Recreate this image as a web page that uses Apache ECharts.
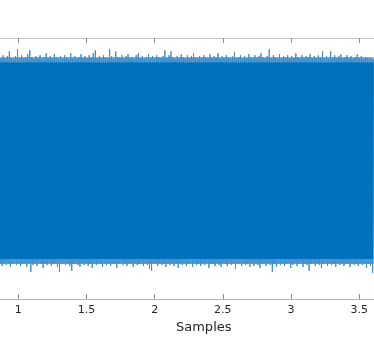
<!DOCTYPE html>
<html>
<head>
<meta charset="utf-8">
<script src="https://cdn.jsdelivr.net/npm/echarts@6/dist/echarts.min.js"></script>
<style>
  html, body { margin: 0; padding: 0; background: #fff; }
  #chart { width: 374px; height: 349px; }
</style>
</head>
<body>
<div id="chart"></div>
<script>
// sample positions (x10^n samples), one envelope value per position
const xStart = 0.86
const xStep = 0.015

// upper envelope of the noise (peaks)
const upper = [
  1.05,1.03,1.07,1.04,1.06,1.11,1.04,1.02,1.06,1.13,
  1.04,1.07,1.03,1.05,1.08,1.12,1.05,1.03,1.06,1.04,
  1.07,1.02,1.05,1.09,1.04,1.06,1.03,1.08,1.05,1.04,
  1.06,1.03,1.07,1.05,1.02,1.09,1.04,1.06,1.03,1.05,
  1.08,1.04,1.06,1.03,1.07,1.05,1.09,1.12,1.04,1.06,
  1.03,1.07,1.05,1.04,1.13,1.06,1.03,1.11,1.05,1.04,
  1.07,1.03,1.06,1.08,1.04,1.05,1.02,1.07,1.09,1.04,
  1.06,1.03,1.05,1.08,1.04,1.06,1.03,1.07,1.05,1.04,
  1.06,1.12,1.04,1.07,1.11,1.05,1.03,1.06,1.04,1.08,
  1.05,1.03,1.07,1.04,1.06,1.09,1.05,1.03,1.06,1.04,
  1.07,1.05,1.03,1.08,1.04,1.06,1.05,1.09,1.03,1.06,
  1.04,1.07,1.05,1.03,1.06,1.10,1.04,1.05,1.07,1.03,
  1.06,1.04,1.08,1.05,1.03,1.07,1.04,1.06,1.09,1.05,
  1.03,1.06,1.13,1.04,1.07,1.05,1.03,1.08,1.04,1.06,
  1.05,1.07,1.03,1.06,1.04,1.09,1.05,1.03,1.07,1.04,
  1.06,1.05,1.08,1.04,1.06,1.03,1.07,1.05,1.11,1.04,
  1.06,1.03,1.11,1.05,1.07,1.04,1.06,1.08,1.03,1.05,
  1.07,1.04,1.06,1.03,1.05,1.08,1.04,1.06,1.03,1.05,
  1.04,1.03,1.02,1.03
]
// lower envelope
const lower = [
  -1.05,-1.07,-1.03,-1.06,-1.04,-1.08,-1.05,-1.03,-1.06,-1.04,
  -1.07,-1.05,-1.03,-1.08,-1.04,-1.13,-1.06,-1.04,-1.07,-1.03,
  -1.05,-1.09,-1.04,-1.06,-1.03,-1.07,-1.05,-1.04,-1.08,-1.13,
  -1.05,-1.03,-1.06,-1.04,-1.07,-1.12,-1.05,-1.03,-1.06,-1.08,
  -1.04,-1.06,-1.03,-1.07,-1.05,-1.09,-1.04,-1.06,-1.03,-1.05,
  -1.08,-1.04,-1.06,-1.03,-1.07,-1.05,-1.04,-1.09,-1.05,-1.03,
  -1.06,-1.04,-1.07,-1.05,-1.03,-1.08,-1.04,-1.06,-1.05,-1.03,
  -1.07,-1.04,-1.06,-1.10,-1.12,-1.05,-1.03,-1.07,-1.04,-1.06,
  -1.05,-1.08,-1.03,-1.06,-1.04,-1.07,-1.05,-1.09,-1.04,-1.06,
  -1.03,-1.07,-1.05,-1.04,-1.08,-1.03,-1.06,-1.05,-1.07,-1.04,
  -1.06,-1.03,-1.09,-1.05,-1.04,-1.07,-1.03,-1.06,-1.08,-1.04,
  -1.05,-1.07,-1.03,-1.06,-1.04,-1.10,-1.05,-1.03,-1.07,-1.04,
  -1.06,-1.05,-1.08,-1.03,-1.07,-1.04,-1.06,-1.09,-1.05,-1.03,
  -1.07,-1.04,-1.06,-1.13,-1.05,-1.08,-1.03,-1.06,-1.04,-1.07,
  -1.05,-1.03,-1.09,-1.06,-1.04,-1.07,-1.05,-1.03,-1.08,-1.04,
  -1.06,-1.12,-1.05,-1.03,-1.07,-1.04,-1.06,-1.09,-1.05,-1.03,
  -1.07,-1.04,-1.06,-1.05,-1.08,-1.03,-1.06,-1.04,-1.07,-1.05,
  -1.03,-1.08,-1.04,-1.06,-1.05,-1.07,-1.03,-1.06,-1.04,-1.09,
  -1.05,-1.07,-1.14,-1.06
]
// dense core of the signal, and the thinner fringe just outside it
const coreX = [0.86, 3.605]
const coreHigh = [1.0, 1.0]
const coreLow = -1.0
const fringeHigh = [1.05, 1.05]
const fringeLow = [-1.05, -1.05]

const xTicks = [1, 1.5, 2, 2.5, 3, 3.5]

const blue = '#0072BD'
const lightBlue = '#5c9dd2'
const spikeBlue = '#3f8fcd'

// zig-zag between upper and lower peaks so the band fills like a dense trace
const trace = []
upper.forEach((u, i) => {
  const x = xStart + i * xStep
  trace.push([x, u])
  trace.push([x + xStep / 2, lower[i]])
})

const chart = echarts.init(document.getElementById('chart'))
const option = {
  animation: false,
  backgroundColor: '#fff',
  grid: {
    left: -50,
    right: -53.5,
    top: 38,
    bottom: 50,
    containLabel: false,
    outerBoundsMode: 'none'
  },
  xAxis: [
    {
      type: 'value',
      min: 0.5,
      max: 4,
      interval: 0.5,
      name: 'Samples',
      nameLocation: 'middle',
      nameGap: 19,
      nameTextStyle: { fontFamily: 'DejaVu Sans', fontSize: 13, color: '#262626', padding: [0, 0, 0, 30] },
      axisLine: { onZero: false, lineStyle: { color: '#b4b4b4', width: 1 } },
      axisTick: { inside: true, length: 5, lineStyle: { color: '#8c8c8c' } },
      axisLabel: {
        margin: 6,
        fontFamily: 'DejaVu Sans',
        fontSize: 11,
        color: '#262626',
        formatter: (v) => (xTicks.includes(v) ? String(v) : '')
      },
      splitLine: { show: false }
    },
    {
      type: 'value',
      position: 'top',
      min: 0.5,
      max: 4,
      interval: 0.5,
      axisLine: { show: true, onZero: false, lineStyle: { color: '#c4c4c4', width: 1 } },
      axisTick: { show: true, inside: true, length: 5, lineStyle: { color: '#8c8c8c' } },
      axisLabel: { show: false },
      splitLine: { show: false }
    }
  ],
  yAxis: {
    type: 'value',
    min: -1.405,
    max: 1.245,
    show: false
  },
  series: [
    {
      type: 'line',
      z: 1,
      data: coreX.map((x, i) => [x, fringeHigh[i]]),
      symbol: 'none',
      lineStyle: { width: 0 },
      areaStyle: { color: lightBlue, opacity: 1, origin: coreHigh[0] }
    },
    {
      type: 'line',
      z: 1,
      data: coreX.map((x, i) => [x, fringeLow[i]]),
      symbol: 'none',
      lineStyle: { width: 0 },
      areaStyle: { color: lightBlue, opacity: 1, origin: coreLow }
    },
    {
      type: 'line',
      z: 2,
      data: trace,
      symbol: 'none',
      sampling: null,
      lineStyle: { color: spikeBlue, width: 1, join: 'bevel' },
      itemStyle: { color: spikeBlue }
    },
    {
      type: 'line',
      z: 3,
      data: coreX.map((x, i) => [x, coreHigh[i]]),
      symbol: 'none',
      lineStyle: { width: 0 },
      areaStyle: { color: blue, opacity: 1, origin: coreLow }
    }
  ]
}
chart.setOption(option)
window.addEventListener('resize', () => chart.resize())
</script>
</body>
</html>
